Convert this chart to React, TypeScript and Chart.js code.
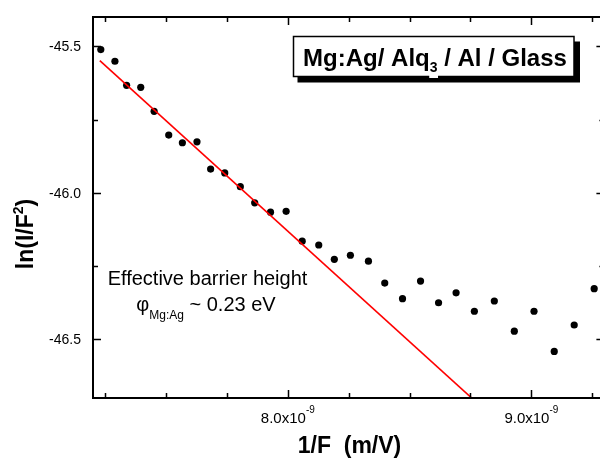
import { useEffect, useRef } from "react";
import { Chart, registerables } from "chart.js";

Chart.register(...registerables);

// 1/F in units of 1e-9 m/V
const invField = [
  7.232, 7.29, 7.338, 7.396, 7.451, 7.511, 7.567, 7.627, 7.683, 7.741, 7.805,
  7.864, 7.929, 7.993, 8.059, 8.127, 8.191, 8.257, 8.331, 8.398, 8.471, 8.545,
  8.619, 8.691, 8.766, 8.848, 8.93, 9.011, 9.094, 9.176, 9.258,
];
// ln(I/F^2)
const lnIF2 = [
  -45.511, -45.551, -45.633, -45.64, -45.722, -45.803, -45.829, -45.826,
  -45.919, -45.932, -45.979, -46.034, -46.066, -46.063, -46.165, -46.178,
  -46.227, -46.213, -46.233, -46.308, -46.361, -46.301, -46.375, -46.341,
  -46.404, -46.369, -46.472, -46.404, -46.541, -46.451, -46.327,
];
// linear fit (red line)
const fitX = [7.228, 8.8];
const fitY = [-45.549, -46.734];

const xMajorTicks = [8.0, 9.0];
const xMajorLabels = ["8.0x10", "9.0x10"];
const xSupLabel = "-9";
const xMinorTicks = [7.25, 7.5, 7.75, 8.25, 8.5, 8.75, 9.25];
const yMajorTicks = [-45.5, -46.0, -46.5];
const yMajorLabels = ["-45.5", "-46.0", "-46.5"];
const yMinorTicks = [-45.75, -46.25];

const FONT = "'Liberation Sans', Arial, sans-serif";
const CANVAS_W = 608;
const CANVAS_H = 461;

type Part = { t: string; size: number; bold?: boolean; dy?: number; bg?: boolean };

function fontOf(p: Part) {
  return `${p.bold ? "bold " : ""}${p.size}px ${FONT}`;
}

function drawRich(
  ctx: CanvasRenderingContext2D,
  parts: Part[],
  x: number,
  y: number,
  align: "left" | "center" | "right"
) {
  let w = 0;
  for (const p of parts) {
    ctx.font = fontOf(p);
    w += ctx.measureText(p.t).width;
  }
  let cx = align === "center" ? x - w / 2 : align === "right" ? x - w : x;
  ctx.textAlign = "left";
  ctx.textBaseline = "alphabetic";
  for (const p of parts) {
    ctx.font = fontOf(p);
    const pw = ctx.measureText(p.t).width;
    const by = y + (p.dy || 0);
    if (p.bg) {
      ctx.save();
      ctx.fillStyle = "#fff";
      ctx.fillRect(cx - 0.5, by - p.size * 0.8, pw + 1, p.size * 0.8 + p.size * 0.45);
      ctx.restore();
    }
    ctx.fillText(p.t, cx, by);
    cx += pw;
  }
}

const framePlugin = {
  id: "framePlugin",
  afterDraw(chart: any) {
    const { ctx, chartArea: a, scales } = chart;
    const xs = scales.x;
    const ys = scales.y;
    ctx.save();
    ctx.fillStyle = "#000";
    ctx.strokeStyle = "#000";

    // axis frame
    ctx.lineWidth = 2;
    ctx.strokeRect(a.left, a.top, a.right - a.left, a.bottom - a.top);

    // ticks (inward)
    ctx.lineWidth = 1.5;
    ctx.beginPath();
    const xt = (v: number, len: number) => {
      const px = Math.round(xs.getPixelForValue(v)) + 0.5;
      ctx.moveTo(px, a.bottom);
      ctx.lineTo(px, a.bottom - len);
      ctx.moveTo(px, a.top);
      ctx.lineTo(px, a.top + len);
    };
    const yt = (v: number, len: number) => {
      const py = Math.round(ys.getPixelForValue(v)) + 0.5;
      ctx.moveTo(a.left, py);
      ctx.lineTo(a.left + len, py);
      ctx.moveTo(a.right, py);
      ctx.lineTo(a.right - len, py);
    };
    xMajorTicks.forEach((v) => xt(v, 8));
    xMinorTicks.forEach((v) => xt(v, 5));
    yMajorTicks.forEach((v) => yt(v, 8));
    yMinorTicks.forEach((v) => yt(v, 5));
    ctx.stroke();

    // tick labels
    xMajorTicks.forEach((v, i) => {
      const px = xs.getPixelForValue(v);
      drawRich(
        ctx,
        [
          { t: xMajorLabels[i], size: 15 },
          { t: xSupLabel, size: 10, dy: -10 },
        ],
        px,
        423,
        "center"
      );
    });
    ctx.font = `14px ${FONT}`;
    ctx.textAlign = "right";
    ctx.textBaseline = "middle";
    yMajorTicks.forEach((v, i) => {
      const py = ys.getPixelForValue(v);
      ctx.fillText(yMajorLabels[i], 81, py + 1);
    });

    // axis titles
    drawRich(ctx, [{ t: "1/F  (m/V)", size: 23, bold: true }], 349.5, 453, "center");
    ctx.save();
    ctx.translate(33, 234);
    ctx.rotate(-Math.PI / 2);
    drawRich(
      ctx,
      [
        { t: "ln(I/F", size: 23, bold: true },
        { t: "2", size: 14, bold: true, dy: -10 },
        { t: ")", size: 23, bold: true },
      ],
      0,
      0,
      "center"
    );
    ctx.restore();

    // annotation
    drawRich(ctx, [{ t: "Effective barrier height", size: 20 }], 207.5, 285, "center");
    drawRich(
      ctx,
      [
        { t: "\u03c6", size: 20 },
        { t: "Mg:Ag", size: 12, dy: 8 },
        { t: " ~ 0.23 eV", size: 20 },
      ],
      206,
      311,
      "center"
    );

    // legend box with shadow
    const bx = 293.5, by = 36.5, bw = 280.5, bh = 40;
    ctx.fillStyle = "#000";
    ctx.fillRect(bx + 4, by + 5, bw + 2, bh + 1);
    ctx.fillStyle = "#fff";
    ctx.fillRect(bx, by, bw, bh);
    ctx.lineWidth = 1.5;
    ctx.strokeRect(bx, by, bw, bh);
    ctx.fillStyle = "#000";
    drawRich(
      ctx,
      [
        { t: "Mg:Ag/ Alq", size: 24, bold: true },
        { t: "3", size: 14, bold: true, dy: 6, bg: true },
        { t: " / Al / Glass", size: 24, bold: true },
      ],
      435,
      65.7,
      "center"
    );

    ctx.restore();
  },
};

export default function App() {
  const ref = useRef<HTMLCanvasElement | null>(null);

  useEffect(() => {
    document.body.style.margin = "0";
    const canvas = ref.current;
    if (!canvas) return;
    const points = invField.map((x, i) => ({ x, y: lnIF2[i] }));
    const fit = fitX.map((x, i) => ({ x, y: fitY[i] }));
    const chart = new Chart(canvas, {
      type: "scatter",
      data: {
        datasets: [
          {
            type: "line",
            data: fit,
            borderColor: "#ff0000",
            borderWidth: 1.6,
            pointRadius: 0,
            showLine: true,
            fill: false,
          } as any,
          {
            type: "scatter",
            data: points,
            backgroundColor: "#000",
            borderColor: "#000",
            borderWidth: 0,
            pointRadius: 3.6,
            pointHoverRadius: 3.6,
          } as any,
        ],
      },
      options: {
        responsive: false,
        animation: false,
        events: [],
        layout: {
          padding: { left: 93, top: 17, right: CANVAS_W - 605.5, bottom: CANVAS_H - 398 },
        },
        scales: {
          x: { type: "linear", min: 7.2, max: 9.3, display: false },
          y: { type: "linear", min: -46.7, max: -45.4, display: false },
        },
        plugins: {
          legend: { display: false },
          tooltip: { enabled: false },
        },
      },
      plugins: [framePlugin],
    });
    return () => chart.destroy();
  }, []);

  return (
    <div style={{ width: 600, height: 461, overflow: "hidden", position: "relative", background: "#fff" }}>
      <canvas
        ref={ref}
        width={CANVAS_W}
        height={CANVAS_H}
        style={{ width: CANVAS_W, height: CANVAS_H, display: "block" }}
      />
    </div>
  );
}
